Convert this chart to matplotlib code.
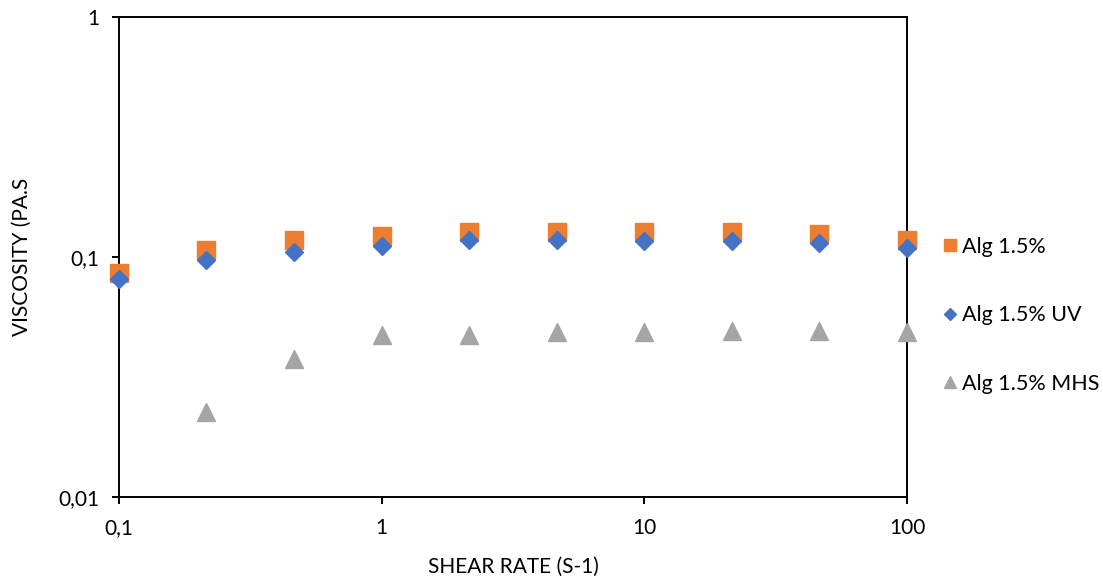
import matplotlib
matplotlib.use("Agg")
import matplotlib.pyplot as plt
from matplotlib.ticker import FixedLocator, NullLocator

plt.rcParams['font.family'] = ['Lato', 'DejaVu Sans']

shear_rate = [0.1, 0.215, 0.464, 1, 2.15, 4.64, 10, 21.5, 46.4, 100]
alg = [0.0858, 0.1074, 0.1172, 0.1229, 0.1271, 0.1271, 0.1271, 0.1271, 0.1241, 0.1172]
alg_uv = [0.0810, 0.0976, 0.1054, 0.1116, 0.1172, 0.1172, 0.1161, 0.1161, 0.1144, 0.1090]
shear_rate_mhs = [0.215, 0.464, 1, 2.15, 4.64, 10, 21.5, 46.4, 100]
alg_mhs = [0.0226, 0.0376, 0.0475, 0.0471, 0.0487, 0.0487, 0.0490, 0.0490, 0.0487]

x_ticks = [0.1, 1, 10, 100]
x_labels = ['0,1', '1', '10', '100']
y_ticks = [0.01, 0.1, 1]
y_labels = ['0,01', '0,1', '1']

fig = plt.figure(figsize=(11.03, 5.81), dpi=100)
ax = fig.add_axes([119/1103, 84/581, 788/1103, 480/581])

ax.plot(shear_rate, alg, linestyle='none', marker='s', markersize=13,
        color='#ED7D31', label='Alg 1.5%', clip_on=False, zorder=3)
ax.plot(shear_rate, alg_uv, linestyle='none', marker='D', markersize=9.3,
        color='#4472C4', label='Alg 1.5% UV', clip_on=False, zorder=4)
ax.plot(shear_rate_mhs, alg_mhs, linestyle='none', marker='^', markersize=13,
        color='#A5A5A5', label='Alg 1.5% MHS', clip_on=False, zorder=3)

ax.set_xscale('log')
ax.set_yscale('log')
ax.set_xlim(0.1, 100)
ax.set_ylim(0.01, 1)
ax.xaxis.set_major_locator(FixedLocator(x_ticks))
ax.yaxis.set_major_locator(FixedLocator(y_ticks))
ax.xaxis.set_minor_locator(NullLocator())
ax.yaxis.set_minor_locator(NullLocator())
ax.set_xticklabels(x_labels)
ax.set_yticklabels(y_labels)
ax.tick_params(axis='both', direction='out', length=5, width=1.4,
               labelsize=15, colors='black')
ax.tick_params(axis='x', pad=10)
ax.tick_params(axis='y', pad=9)

for s in ax.spines.values():
    s.set_linewidth(1.4)
    s.set_color('black')

ax.set_xlabel('SHEAR RATE (S-1)', fontsize=15, labelpad=14)
ax.set_ylabel('VISCOSITY (PA.S', fontsize=15, labelpad=19)

leg = fig.legend(loc='upper left', bbox_to_anchor=(945/1103, 1 - 237/581),
                 frameon=False, fontsize=15.5, markerscale=0.68,
                 labelspacing=2.25, handlelength=0.5, handletextpad=0.3,
                 borderaxespad=0, borderpad=0)

fig.savefig('out.png', dpi=100)
